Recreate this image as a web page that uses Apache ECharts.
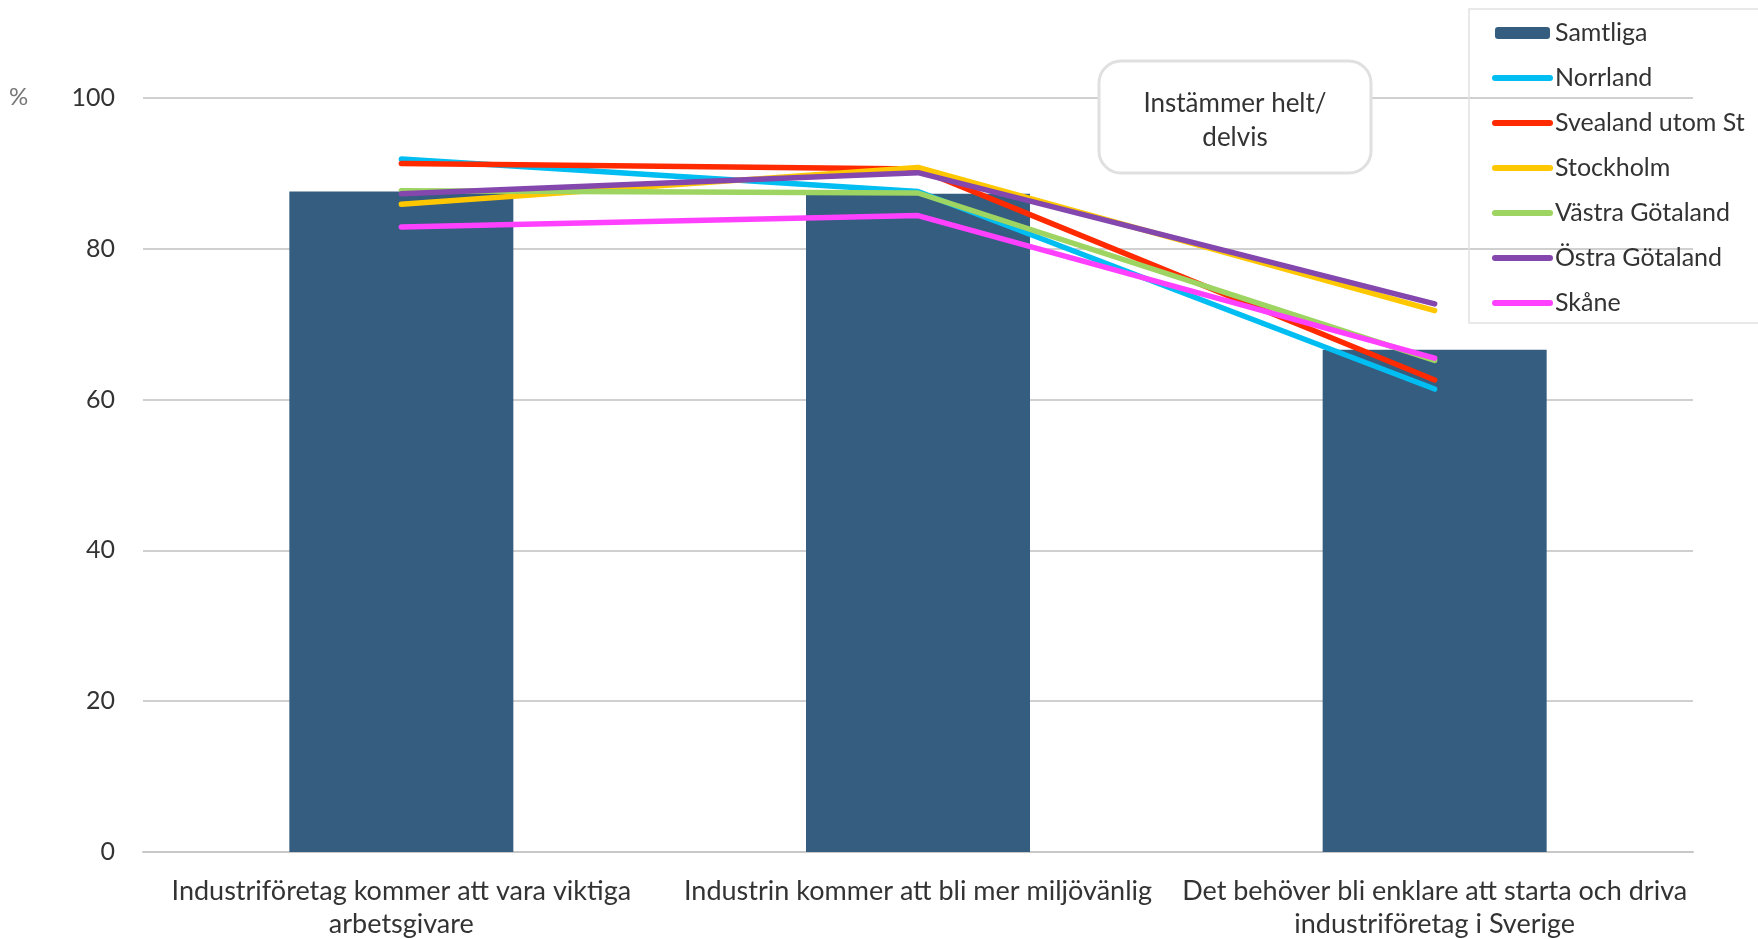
<!DOCTYPE html>
<html>
<head>
<meta charset="utf-8">
<title>Instämmer helt/delvis</title>
<script src="https://cdn.jsdelivr.net/npm/echarts@6/dist/echarts.min.js"></script>
<style>
  html, body { margin: 0; padding: 0; background: #ffffff; }
  #myChart { width: 1758px; height: 939px; }
</style>
</head>
<body>
<div id="myChart"></div>
<script>
// kategorier på x-axeln
var categories = [
  'Industriföretag kommer att vara viktiga\narbetsgivare',
  'Industrin kommer att bli mer miljövänlig',
  'Det behöver bli enklare att starta och driva\nindustriföretag i Sverige'
];
var yTicks = [0, 20, 40, 60, 80, 100];

// staplar
var samtliga = [87.6, 87.3, 66.6];

// linjer per region
var norrland = [91.9, 87.6, 61.4];
var svealand = [91.3, 90.6, 62.6];
var stockholm = [85.9, 90.8, 71.8];
var vastraGotaland = [87.7, 87.4, 65.2];
var ostraGotaland = [87.3, 90.1, 72.7];
var skane = [82.9, 84.4, 65.5];

var lineSeries = [
  { name: 'Norrland', data: norrland, color: '#00bdf2' },
  { name: 'Svealand utom St', data: svealand, color: '#ff2a00' },
  { name: 'Stockholm', data: stockholm, color: '#ffc700' },
  { name: 'Västra Götaland', data: vastraGotaland, color: '#9ed461' },
  { name: 'Östra Götaland', data: ostraGotaland, color: '#8447ae' },
  { name: 'Skåne', data: skane, color: '#ff40ff' }
];

var font = 'Lato, "Noto Sans", sans-serif';
var myChart = echarts.init(document.getElementById('myChart'));

var series = [
  {
    name: 'Samtliga',
    type: 'bar',
    data: samtliga,
    barWidth: 224,
    itemStyle: { color: '#345d7f' },
    z: 2
  }
];
lineSeries.forEach(function (s) {
  series.push({
    name: s.name,
    type: 'line',
    data: s.data,
    symbol: 'none',
    color: s.color,
    lineStyle: { color: s.color, width: 5.5, cap: 'round', join: 'round' },
    z: 3
  });
});

// legendens poster: linjerna utan punkt i mitten
var legendData = [{ name: 'Samtliga' }];
lineSeries.forEach(function (s) {
  legendData.push({ name: s.name, itemStyle: { opacity: 0 } });
});

myChart.setOption({
  backgroundColor: '#ffffff',
  animation: false,
  textStyle: { fontFamily: font },
  // inga automatiska krympningar av rutnätet
  grid: { left: 143, right: 65, top: 98, bottom: 87, outerBoundsMode: 'none' },
  legend: {
    orient: 'vertical',
    left: 1492,
    top: 19,
    padding: 0,
    itemWidth: 55,
    itemHeight: 12,
    itemGap: 17,
    lineStyle: { width: 6, cap: 'round' },
    textStyle: { fontFamily: font, fontSize: 25, color: '#333333', lineHeight: 28 },
    data: legendData
  },
  xAxis: {
    type: 'category',
    data: categories,
    axisTick: { show: false },
    axisLine: { lineStyle: { color: '#c8c8c8', width: 2 } },
    axisLabel: {
      interval: 0,
      margin: 23,
      fontFamily: font,
      fontSize: 27,
      lineHeight: 33,
      color: '#333333'
    }
  },
  yAxis: {
    type: 'value',
    min: yTicks[0],
    max: yTicks[yTicks.length - 1],
    interval: yTicks[1] - yTicks[0],
    axisLine: { show: false },
    axisTick: { show: false },
    axisLabel: { margin: 28, fontFamily: font, fontSize: 25, color: '#333333' },
    splitLine: { lineStyle: { color: '#d0d0d0', width: 2 } }
  },
  graphic: [
    // ram runt legenden, går ut över kanten
    {
      type: 'rect',
      shape: { x: 1469, y: 9, width: 320, height: 314 },
      style: { fill: 'none', stroke: '#e2e2e2', lineWidth: 1.5 },
      z: 100
    },
    // enhet
    {
      type: 'text',
      left: 9,
      top: 85,
      style: { text: '%', fontFamily: font, fontSize: 24, fill: '#777777' },
      z: 100
    },
    // rutan med rubrik
    {
      type: 'rect',
      shape: { x: 1099, y: 61, width: 272, height: 112, r: 22 },
      style: { fill: '#ffffff', stroke: '#e0e0e0', lineWidth: 3 },
      z: 100
    },
    {
      type: 'text',
      x: 1235,
      y: 121,
      style: {
        text: 'Instämmer helt/\ndelvis',
        fontFamily: font,
        fontSize: 26,
        lineHeight: 34,
        fill: '#333333',
        align: 'center',
        verticalAlign: 'middle'
      },
      z: 101
    }
  ],
  series: series
});

window.onresize = function () {
  myChart.resize();
};
</script>
</body>
</html>
